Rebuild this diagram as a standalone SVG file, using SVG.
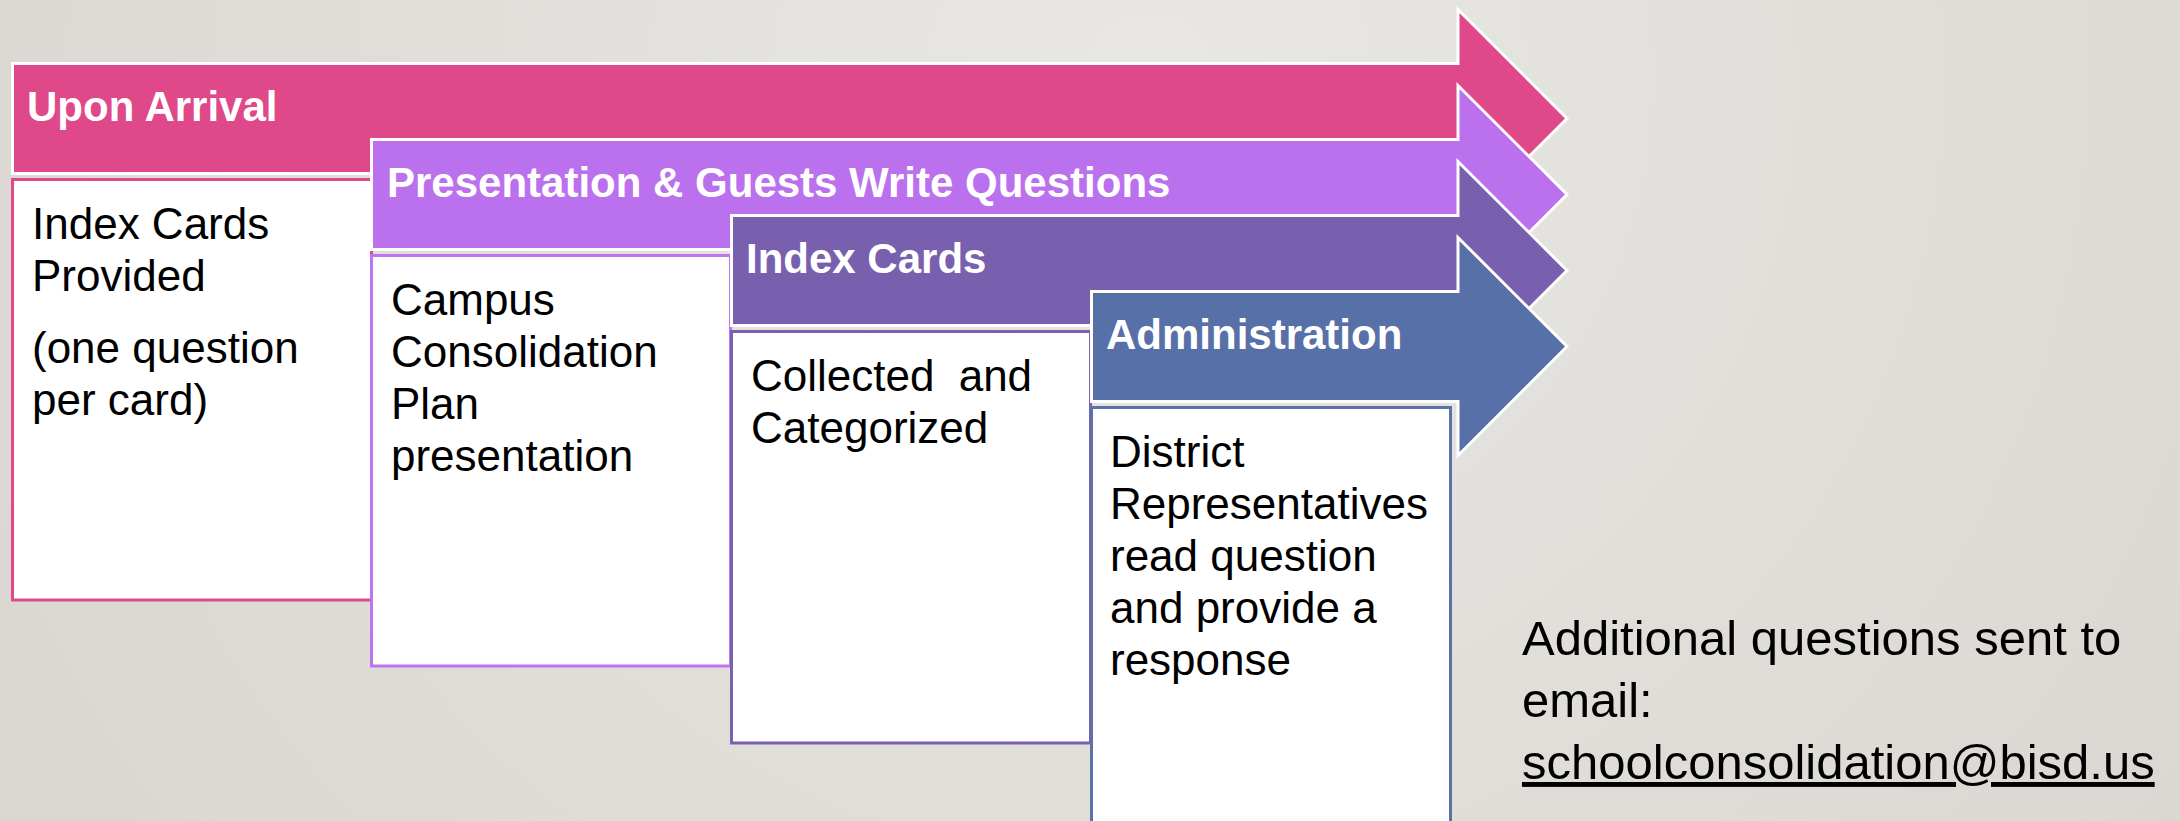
<svg xmlns="http://www.w3.org/2000/svg" width="2180" height="821" viewBox="0 0 2180 821">
  <defs>
    <radialGradient id="bg" cx="1150" cy="80" r="1500" gradientUnits="userSpaceOnUse">
      <stop offset="0" stop-color="#E9E7E4"/>
      <stop offset="1" stop-color="#D8D5CF"/>
    </radialGradient>
  </defs>
  <style>
    .arrow { stroke: #FFFFFF; stroke-width: 3; stroke-linejoin: miter; }
    .box { fill: #FFFFFF; stroke-width: 3; }
    .head { font-family: "Liberation Sans", Arial, sans-serif; font-weight: bold; font-size: 42px; fill: #FFFFFF; }
    .body { font-family: "Liberation Sans", Arial, sans-serif; font-size: 44px; fill: #000000; }
    .note { font-family: "Liberation Sans", Arial, sans-serif; font-size: 49px; fill: #000000; }
    .c1 { fill: #DF4889; } .s1 { stroke: #DF4889; }
    .c2 { fill: #BB71EE; } .s2 { stroke: #BE74F0; }
    .c3 { fill: #7860AF; } .s3 { stroke: #7A61B0; }
    .c4 { fill: #5870A8; } .s4 { stroke: #5A72A9; }
  </style>
  <rect x="0" y="0" width="2180" height="821" fill="url(#bg)"/>

  <g id="step1">
    <path class="arrow c1" d="M12.5,63.5 H1458 V9.5 L1567,118.5 L1458,227.5 V173.5 H12.5 Z"/>
    <rect class="box s1" x="12.5" y="179.5" width="359" height="420.5"/>
    <text class="head" x="27" y="120.5">Upon Arrival</text>
    <text class="body" x="32" y="238.5">Index Cards</text>
    <text class="body" x="32" y="290.5">Provided</text>
    <text class="body" x="32" y="363">(one question</text>
    <text class="body" x="32" y="415">per card)</text>
  </g>

  <g id="step2">
    <path class="arrow c2" d="M371.5,139.5 H1458 V85.5 L1567,194.5 L1458,303.5 V249.5 H371.5 Z"/>
    <rect class="box s2" x="371.5" y="255.5" width="359" height="410.5"/>
    <text class="head" x="387" y="196.5">Presentation &amp; Guests Write Questions</text>
    <text class="body" x="391" y="314.5">Campus</text>
    <text class="body" x="391" y="366.5">Consolidation</text>
    <text class="body" x="391" y="418.5">Plan</text>
    <text class="body" x="391" y="470.5">presentation</text>
  </g>

  <g id="step3">
    <path class="arrow c3" d="M731.5,215.5 H1458 V161.5 L1567,270.5 L1458,379.5 V325.5 H731.5 Z"/>
    <rect class="box s3" x="731.5" y="331.5" width="359" height="411.5"/>
    <text class="head" x="746" y="272.5">Index Cards</text>
    <text class="body" x="751" y="390.5" word-spacing="12">Collected and</text>
    <text class="body" x="751" y="442.5">Categorized</text>
  </g>

  <g id="step4">
    <path class="arrow c4" d="M1091.5,291.5 H1458 V237.5 L1567,346.5 L1458,455.5 V401.5 H1091.5 Z"/>
    <rect class="box s4" x="1091.5" y="407.5" width="359" height="500"/>
    <text class="head" x="1106" y="348.5">Administration</text>
    <text class="body" x="1110" y="466.5">District</text>
    <text class="body" x="1110" y="518.5">Representatives</text>
    <text class="body" x="1110" y="570.5">read question</text>
    <text class="body" x="1110" y="622.5">and provide a</text>
    <text class="body" x="1110" y="674.5">response</text>
  </g>

  <g id="note">
    <text class="note" x="1522" y="655">Additional questions sent to</text>
    <text class="note" x="1522" y="717">email:</text>
    <text class="note" x="1522" y="779" text-decoration="underline">schoolconsolidation@bisd.us</text>
  </g>

  <g id="connectors"/>
</svg>
